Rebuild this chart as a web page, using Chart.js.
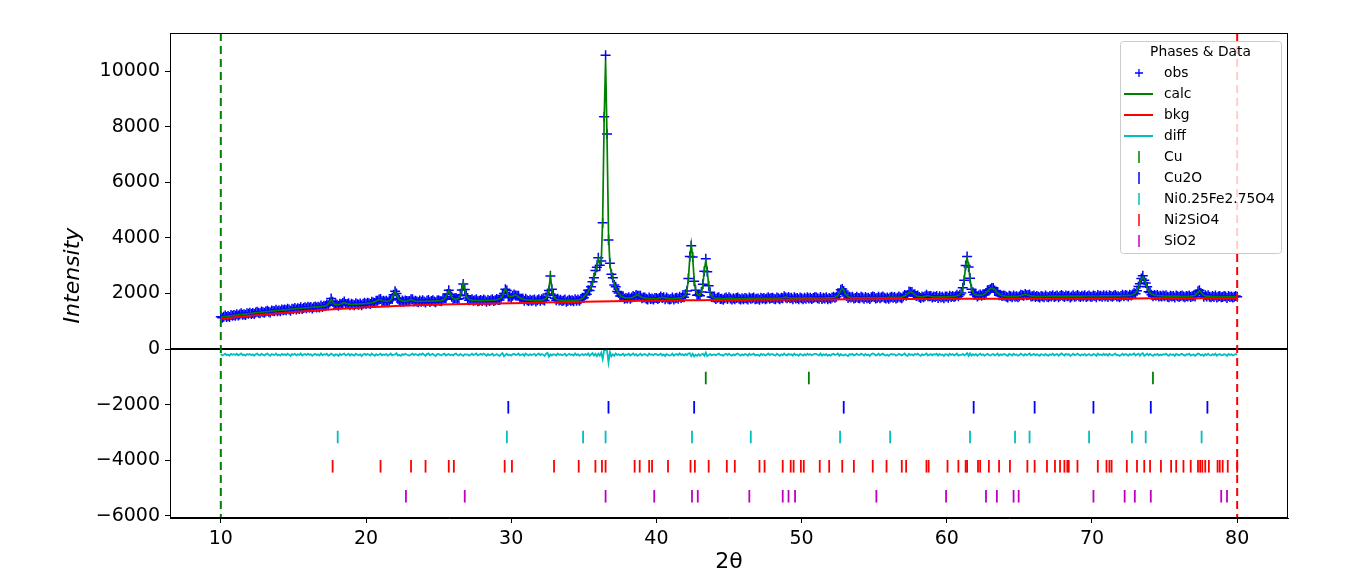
<!DOCTYPE html>
<html>
<head>
<meta charset="utf-8">
<title>Rietveld plot</title>
<script src="https://cdn.jsdelivr.net/npm/chart.js@4.4.1/dist/chart.umd.min.js"></script>
<style>
  html, body { margin: 0; padding: 0; background: #fff; }
  #wrap { width: 1356px; height: 587px; }
</style>
</head>
<body>
<div id="wrap"><canvas id="chart" width="1356" height="587"></canvas></div>
<script>
// --- data ---
// profile grid: 10.0 .. 80.0 deg, step 0.1
const thetaStart = 10;
const thetaStep = 0.1;

// calculated profile, one row per degree
const calc = [
  1150,1157,1163,1170,1176,1183,1189,1196,1202,1209, // 10
  1215,1222,1228,1235,1241,1248,1254,1261,1267,1274, // 11
  1280,1286,1291,1297,1302,1308,1313,1319,1324,1330, // 12
  1335,1341,1346,1352,1357,1363,1368,1374,1379,1385, // 13
  1390,1395,1400,1405,1410,1415,1420,1425,1430,1435, // 14
  1440,1445,1450,1455,1460,1465,1470,1475,1480,1485, // 15
  1490,1494,1498,1502,1506,1510,1514,1518,1522,1526, // 16
  1539,1546,1556,1576,1611,1690,1784,1698,1627,1600, // 17
  1599,1601,1609,1626,1651,1669,1652,1631,1618,1613, // 18
  1611,1611,1612,1613,1616,1619,1622,1625,1628,1632, // 19
  1638,1643,1649,1656,1666,1679,1697,1724,1758,1777, // 20
  1772,1746,1727,1719,1717,1723,1738,1767,1829,1957, // 21
  2070,1956,1830,1771,1743,1729,1720,1717,1728,1739, // 22
  1762,1783,1761,1733,1723,1719,1717,1717,1717,1718, // 23
  1718,1719,1720,1721,1722,1724,1725,1727,1729,1732, // 24
  1736,1741,1751,1766,1796,1855,1979,2093,1992,1873, // 25
  1819,1797,1794,1805,1839,1922,2134,2386,2131,1917, // 26
  1826,1788,1769,1758,1752,1748,1745,1743,1742,1741, // 27
  1744,1744,1745,1745,1746,1752,1755,1758,1764,1770, // 28
  1778,1789,1807,1835,1879,2063,2168,2077,1909,1886, // 29
  1885,1904,1931,1943,1920,1879,1842,1815,1797,1784, // 30
  1775,1768,1763,1759,1756,1754,1752,1751,1750,1749, // 31
  1758,1764,1774,1792,1828,1916,2180,2620,2180,1916, // 32
  1828,1792,1774,1764,1758,1754,1751,1749,1748,1748, // 33
  1747,1748,1749,1751,1754,1760,1768,1778,1795,1825, // 34
  1870,1930,1990,2070,2150,2240,2370,2600,2800,3000, // 35
  3250,3050,3100,4700,8200,10400,7600,4200,3000,2750, // 36
  2550,2350,2200,2090,2000,1940,1900,1870,1850,1835, // 37
  1828,1832,1840,1852,1868,1895,1925,1960,1925,1890, // 38
  1862,1845,1833,1825,1819,1815,1812,1810,1812,1815, // 39
  1818,1825,1838,1852,1862,1852,1840,1830,1820,1818, // 40
  1816,1818,1820,1822,1826,1831,1837,1848,1864,1894, // 41
  1948,2105,2497,3279,3766,3282,2506,2122,1976,1937, // 42
  1952,2046,2306,2841,3174,2834,2292,2021,1903,1862, // 43
  1842,1832,1826,1822,1820,1818,1817,1818,1822,1826, // 44
  1830,1828,1823,1819,1817,1816,1816,1817,1817,1818, // 45
  1818,1818,1819,1821,1824,1826,1824,1821,1819,1819, // 46
  1820,1820,1821,1821,1822,1822,1823,1823,1824,1824, // 47
  1825,1825,1826,1827,1828,1831,1836,1845,1857,1864, // 48
  1857,1845,1837,1833,1831,1830,1830,1830,1830,1831, // 49
  1831,1832,1832,1832,1833,1833,1833,1834,1834,1834, // 50
  1834,1835,1835,1835,1836,1836,1836,1837,1837,1838, // 51
  1845,1848,1854,1863,1880,1925,2010,2119,2180,2120, // 52
  2011,1926,1883,1866,1857,1853,1850,1848,1848,1847, // 53
  1845,1845,1846,1846,1847,1847,1848,1848,1849,1849, // 54
  1850,1850,1851,1851,1852,1852,1853,1853,1854,1854, // 55
  1855,1855,1856,1856,1857,1857,1858,1858,1859,1860, // 56
  1890,1911,1945,1992,2038,2063,2039,1994,1948,1915, // 57
  1895,1886,1880,1880,1883,1894,1913,1924,1909,1890, // 58
  1878,1874,1872,1872,1873,1873,1874,1874,1875,1876, // 59
  1880,1882,1884,1887,1890,1897,1904,1916,1933,1966, // 60
  2029,2184,2506,2997,3277,2998,2508,2187,2033,1971, // 61
  1947,1932,1927,1927,1935,1952,1981,2024,2084,2138, // 62
  2178,2192,2176,2135,2076,2016,1971,1941,1922,1909, // 63
  1902,1898,1896,1894,1894,1893,1894,1895,1897,1903, // 64
  1911,1921,1937,1954,1962,1955,1938,1923,1914,1906, // 65
  1902,1899,1896,1896,1897,1897,1898,1898,1899,1899, // 66
  1900,1900,1901,1901,1901,1902,1902,1902,1903,1903, // 67
  1903,1903,1904,1904,1904,1905,1905,1905,1905,1906, // 68
  1906,1906,1906,1906,1907,1907,1907,1907,1908,1908, // 69
  1908,1908,1908,1908,1908,1908,1909,1909,1909,1909, // 70
  1909,1909,1909,1910,1910,1910,1910,1910,1911,1911, // 71
  1919,1920,1921,1923,1924,1927,1932,1941,1954,1977, // 72
  2018,2093,2215,2384,2520,2588,2519,2383,2213,2091, // 73
  2015,1974,1950,1936,1927,1922,1918,1916,1914,1912, // 74
  1903,1903,1902,1902,1902,1901,1901,1901,1900,1900, // 75
  1900,1899,1899,1899,1898,1898,1898,1897,1903,1909, // 76
  1916,1934,1976,2045,2095,2045,1974,1932,1914,1905, // 77
  1901,1896,1893,1892,1891,1890,1890,1889,1889,1888, // 78
  1888,1887,1887,1886,1886,1885,1885,1884,1884,1883, // 79
  1882                                               // 80
];

// difference curve (obs - calc, shifted down by diffOffset)
const diffOffset = -200;
const diff = [
  -185,-232,-204,-168,-221,-197,-240,-176,-209,-188,
  -214,-171,-226,-193,-158,-219,-201,-237,-183,-206,
  -178,-222,-195,-241,-187,-163,-212,-229,-174,-203,
  -230,-190,-166,-208,-244,-181,-199,-217,-162,-225,
  -196,-238,-179,-211,-187,-224,-170,-203,-249,-184,
  -207,-173,-228,-192,-216,-161,-234,-198,-181,-220,
  -167,-212,-188,-245,-202,-176,-219,-193,-231,-159,
  -223,-185,-207,-170,-236,-214,-165,-198,-242,-189,
  -201,-247,-176,-219,-191,-163,-228,-208,-172,-235,
  -182,-210,-239,-168,-204,-226,-187,-252,-195,-171,
  -216,-178,-200,-233,-161,-209,-244,-185,-220,-197,
  -169,-227,-193,-212,-180,-238,-203,-164,-229,-206,
  -191,-155,-233,-208,-247,-186,-215,-172,-199,-224,
  -237,-195,-168,-221,-184,-206,-231,-175,-213,-160,
  -204,-241,-183,-159,-226,-197,-170,-218,-250,-189,
  -177,-213,-229,-192,-166,-238,-203,-181,-222,-195,
  -226,-184,-160,-211,-233,-175,-215,-246,-188,-202,
  -193,-236,-205,-170,-219,-189,-157,-227,-208,-176,
  -212,-165,-198,-243,-182,-224,-201,-168,-235,-214,
  -180,-222,-245,-188,-150,-262,-214,-171,-229,-197,
  -239,-190,-172,-216,-201,-163,-228,-207,-184,-246,
  -167,-209,-231,-185,-222,-198,-174,-240,-193,-158,
  -224,-178,-203,-248,-169,-140,-275,-190,-233,-186,
  -199,-236,-164,-215,-188,-227,-205,-171,-243,-210,
  -173,-214,-195,-232,-160,-221,-186,-244,-203,-179,
  -228,-181,-217,-160,-243,-196,-150,-235,-175,-258,
  -165,-240,-130,-360,-40,-30,-60,-480,-110,-260,
  -190,-245,-162,-221,-184,-230,-203,-168,-239,-196,
  -211,-173,-236,-199,-158,-224,-185,-247,-206,-170,
  -234,-196,-181,-218,-242,-165,-209,-190,-227,-176,
  -187,-225,-203,-166,-231,-194,-250,-178,-212,-238,
  -215,-168,-239,-200,-182,-226,-159,-211,-193,-234,
  -178,-221,-160,-150,-255,-170,-265,-205,-246,-185,
  -240,-195,-172,-240,-130,-255,-220,-177,-231,-204,
  -198,-231,-185,-163,-218,-206,-244,-189,-170,-223,
  -170,-212,-239,-193,-227,-181,-160,-208,-236,-191,
  -226,-183,-201,-244,-175,-216,-196,-167,-229,-210,
  -203,-249,-178,-211,-187,-234,-206,-164,-220,-185,
  -185,-219,-232,-170,-205,-244,-191,-223,-161,-214,
  -231,-176,-208,-190,-238,-165,-217,-199,-242,-180,
  -209,-240,-187,-225,-168,-213,-185,-231,-196,-172,
  -174,-205,-228,-161,-236,-192,-219,-177,-244,-203,
  -238,-192,-170,-217,-199,-160,-241,-186,-220,-233,
  -192,-222,-251,-183,-207,-175,-229,-210,-168,-215,
  -219,-167,-196,-238,-180,-221,-200,-247,-185,-162,
  -181,-233,-214,-171,-226,-194,-168,-211,-236,-199,
  -246,-198,-176,-209,-187,-240,-216,-173,-202,-230,
  -201,-164,-228,-250,-170,-215,-191,-236,-178,-207,
  -169,-214,-243,-188,-222,-200,-162,-229,-212,-183,
  -225,-187,-205,-168,-239,-176,-218,-196,-248,-190,
  -193,-237,-171,-215,-184,-227,-203,-160,-234,-211,
  -211,-176,-230,-195,-150,-250,-160,-238,-187,-222,
  -178,-244,-202,-166,-221,-189,-236,-207,-173,-216,
  -232,-197,-180,-228,-206,-165,-240,-191,-219,-184,
  -188,-219,-246,-177,-200,-233,-170,-214,-195,-241,
  -215,-170,-203,-236,-182,-223,-198,-163,-229,-206,
  -173,-226,-191,-212,-245,-186,-208,-232,-175,-219,
  -240,-189,-214,-168,-227,-201,-179,-243,-196,-160,
  -199,-232,-175,-208,-185,-248,-216,-172,-223,-204,
  -164,-210,-237,-190,-221,-176,-239,-207,-183,-228,
  -226,-181,-200,-246,-168,-213,-194,-229,-171,-217,
  -187,-239,-173,-207,-230,-196,-164,-222,-210,-245,
  -213,-170,-226,-184,-201,-242,-178,-215,-193,-160,
  -234,-196,-165,-240,-180,-150,-245,-205,-171,-228,
  -180,-218,-249,-192,-211,-175,-233,-199,-222,-185,
  -207,-166,-220,-238,-183,-214,-192,-245,-174,-201,
  -229,-191,-172,-211,-240,-187,-205,-168,-236,-214,
  -196,-243,-208,-166,-185,-228,-199,-251,-180,-219,
  -171,-214,-235,-187,-222,-169,-240,-201,-183,-226,
  -218,-184,-197,-248,-175,-211,-192,-230,-206,-179,
  -203
];

// background, one value per degree 10..80
const bkgStart = 10;
const bkg = [
  1080,1140,1195,1245,1290,1330,1370,1405,1440,1470,
  1500,1525,1550,1570,1585,1600,1610,1620,1630,1640,
  1650,1660,1670,1680,1690,1700,1710,1720,1730,1738,
  1745,1750,1754,1757,1760,1763,1766,1769,1772,1775,
  1778,1781,1784,1787,1790,1793,1796,1798,1800,1802,
  1804,1806,1808,1810,1812,1813,1814,1815,1816,1817,
  1818,1819,1820,1821,1822,1823,1824,1825,1826,1827,
  1828
];

// reflection positions (2theta) per phase
const phaseNames = ['Cu', 'Cu2O', 'Ni0.25Fe2.75O4', 'Ni2SiO4', 'SiO2'];
const cuTicks = [43.4, 50.5, 74.2];
const cu2oTicks = [29.8, 36.7, 42.6, 52.9, 61.85, 66.05, 70.1, 74.05, 77.95];
const ferriteTicks = [18.05, 29.7, 34.95, 36.5, 42.45, 46.5, 52.65, 56.1, 61.6, 64.7, 65.7, 69.8, 72.75, 73.7, 77.55];
const ni2sio4Ticks = [17.7, 21.0, 23.1, 24.1, 25.7, 26.05, 29.55, 30.05, 32.95, 34.65, 35.8, 36.25, 36.5,
  38.5, 38.85, 39.5, 39.7, 40.8, 42.35, 42.65, 43.6, 44.85, 45.4, 47.1, 47.45, 48.7, 49.25, 49.45, 49.95,
  50.15, 51.25, 51.9, 52.8, 53.6, 54.9, 55.85, 56.9, 57.2, 58.6, 58.75, 60.05, 60.8, 61.3, 61.4, 62.15,
  62.3, 62.9, 63.6, 64.35, 65.55, 66.05, 66.9, 67.45, 67.8, 68.1, 68.3, 68.4, 69.0, 70.4, 71.0, 71.2,
  71.35, 72.4, 73.1, 73.6, 74.0, 74.75, 75.45, 75.8, 76.3, 76.8, 77.3, 77.45, 77.6, 77.8, 78.05, 78.65,
  78.8, 79.0, 79.35, 80.0];
const sio2Ticks = [22.75, 26.8, 36.5, 39.85, 42.45, 42.85, 46.4, 48.7, 49.1, 49.55, 55.15, 59.95, 62.7,
  63.45, 64.6, 64.95, 70.1, 72.25, 72.95, 74.05, 78.9, 79.3];
const tickRowY = [-1043, -2097, -3165, -4219, -5298];

// axes
const xRange = [6.5, 83.5];
const yRange = [-6080, 11370];
const xTicks = [10, 20, 30, 40, 50, 60, 70, 80];
const yTicks = [-6000, -4000, -2000, 0, 2000, 4000, 6000, 8000, 10000];
const rangeLimits = [10, 80];

// --- styles ---
const BLUE = '#0000ff', GREEN = '#008000', RED = '#ff0000', CYAN = '#00bfbf', MAGENTA = '#bf00bf';
const phaseColors = [GREEN, BLUE, CYAN, RED, MAGENTA];
const limitColors = [GREEN, RED];
const FONT = "'DejaVu Sans', sans-serif";

const theta = calc.map((_, i) => +(thetaStart + i * thetaStep).toFixed(2));
const obsPoints = calc.map((c, i) => ({ x: theta[i], y: c + diff[i] - diffOffset }));
const calcPoints = calc.map((c, i) => ({ x: theta[i], y: c }));
const diffPoints = diff.map((d, i) => ({ x: theta[i], y: d }));
const bkgPoints = bkg.map((b, i) => ({ x: bkgStart + i, y: b }));
const phaseTicks = [cuTicks, cu2oTicks, ferriteTicks, ni2sio4Ticks, sio2Ticks];

const datasets = [
  { label: 'obs', data: obsPoints, showLine: false, pointStyle: 'cross', pointRadius: 5,
    pointBorderWidth: 1.5, borderColor: BLUE, pointBorderColor: BLUE, order: 6 },
  { label: 'calc', data: calcPoints, showLine: true, borderColor: GREEN, borderWidth: 1.7, pointRadius: 0, order: 5 },
  { label: 'bkg', data: bkgPoints, showLine: true, borderColor: RED, borderWidth: 2, pointRadius: 0, order: 4 },
  { label: 'diff', data: diffPoints, showLine: true, borderColor: CYAN, borderWidth: 1.8, pointRadius: 0, order: 3 }
];
phaseTicks.forEach((list, k) => {
  datasets.push({
    label: phaseNames[k],
    data: list.map(t => ({ x: t, y: tickRowY[k] })),
    showLine: false, pointStyle: 'line', pointRotation: 90, pointRadius: 6.3,
    pointBorderWidth: 1.8, borderColor: phaseColors[k], pointBorderColor: phaseColors[k], order: 2
  });
});

const legendEntries = [
  { label: 'obs', kind: 'cross', color: BLUE },
  { label: 'calc', kind: 'line', color: GREEN },
  { label: 'bkg', kind: 'line', color: RED },
  { label: 'diff', kind: 'line', color: CYAN }
].concat(phaseNames.map((n, k) => ({ label: n, kind: 'tick', color: phaseColors[k] })));

const overlay = {
  id: 'overlay',
  afterDatasetsDraw(chart) {
    const { ctx, chartArea: a, scales: { x, y } } = chart;
    ctx.save();
    // zero line
    const y0 = y.getPixelForValue(0);
    ctx.strokeStyle = '#000';
    ctx.lineWidth = 2;
    ctx.beginPath(); ctx.moveTo(a.left, y0); ctx.lineTo(a.right, y0); ctx.stroke();
    // refinement range
    ctx.setLineDash([8, 5]);
    rangeLimits.forEach((v, i) => {
      const px = x.getPixelForValue(v);
      ctx.strokeStyle = limitColors[i];
      ctx.beginPath(); ctx.moveTo(px, a.top); ctx.lineTo(px, a.bottom); ctx.stroke();
    });
    ctx.setLineDash([]);
    // frame
    ctx.strokeStyle = '#000';
    ctx.lineWidth = 1;
    ctx.strokeRect(a.left + 0.5, a.top + 0.5, a.width - 1, a.height - 1);
    // axis titles
    ctx.fillStyle = '#000';
    ctx.textAlign = 'center';
    ctx.textBaseline = 'middle';
    ctx.font = '22px ' + FONT;
    ctx.fillText('2\u03b8', (a.left + a.right) / 2, 562);
    ctx.translate(73, (a.top + a.bottom) / 2);
    ctx.rotate(-Math.PI / 2);
    ctx.font = 'italic 22px ' + FONT;
    ctx.fillText('Intensity', 0, 0);
    ctx.restore();
  },
  afterDraw(chart) {
    const { ctx, chartArea: a } = chart;
    const right = a.right - 7, left = a.right - 168, top = a.top + 8, bottom = a.top + 220;
    ctx.save();
    ctx.fillStyle = 'rgba(255,255,255,0.8)';
    ctx.strokeStyle = '#cccccc';
    ctx.lineWidth = 1;
    ctx.beginPath();
    ctx.roundRect(left + 0.5, top + 0.5, right - left, bottom - top, 3);
    ctx.fill(); ctx.stroke();
    ctx.fillStyle = '#000';
    ctx.font = '13.8px ' + FONT;
    ctx.textBaseline = 'middle';
    ctx.textAlign = 'center';
    ctx.fillText('Phases & Data', (left + right) / 2, top + 11);
    ctx.textAlign = 'left';
    const mx = left + 19;
    legendEntries.forEach((e, i) => {
      const cy = top + 32 + 21 * i;
      ctx.strokeStyle = e.color;
      ctx.beginPath();
      if (e.kind === 'cross') {
        ctx.lineWidth = 1.3;
        ctx.moveTo(mx - 4, cy); ctx.lineTo(mx + 4, cy);
        ctx.moveTo(mx, cy - 4); ctx.lineTo(mx, cy + 4);
      } else if (e.kind === 'line') {
        ctx.lineWidth = 2;
        ctx.moveTo(mx - 15, cy); ctx.lineTo(mx + 14, cy);
      } else {
        ctx.lineWidth = 1.5;
        ctx.moveTo(mx, cy - 6); ctx.lineTo(mx, cy + 6);
      }
      ctx.stroke();
      ctx.fillStyle = '#000';
      ctx.fillText(e.label, left + 44, cy);
    });
    ctx.restore();
  }
};

const tickFont = { family: FONT, size: 19 };
const minus = v => (v < 0 ? '\u2212' + Math.abs(v) : String(v));

new Chart(document.getElementById('chart'), {
  type: 'scatter',
  data: { datasets },
  options: {
    responsive: false,
    animation: false,
    devicePixelRatio: 1,
    layout: { padding: { top: 33, right: 68, left: 0, bottom: 0 } },
    plugins: { legend: { display: false }, tooltip: { enabled: false } },
    scales: {
      x: {
        type: 'linear', min: xRange[0], max: xRange[1],
        afterFit: s => { s.height = 69; },
        afterBuildTicks: s => { s.ticks = xTicks.map(v => ({ value: v })); },
        ticks: { font: tickFont, color: '#000', padding: 5, maxRotation: 0, autoSkip: false, callback: minus },
        grid: { drawOnChartArea: false, drawTicks: true, tickLength: 5, tickColor: '#000' },
        border: { display: true, color: '#000', width: 1 }
      },
      y: {
        type: 'linear', min: yRange[0], max: yRange[1],
        afterFit: s => { s.width = 170; },
        afterBuildTicks: s => { s.ticks = yTicks.map(v => ({ value: v })); },
        ticks: { font: tickFont, color: '#000', padding: 5, autoSkip: false, callback: minus },
        grid: { drawOnChartArea: false, drawTicks: true, tickLength: 5, tickColor: '#000' },
        border: { display: true, color: '#000', width: 1 }
      }
    }
  },
  plugins: [overlay]
});
</script>
</body>
</html>
